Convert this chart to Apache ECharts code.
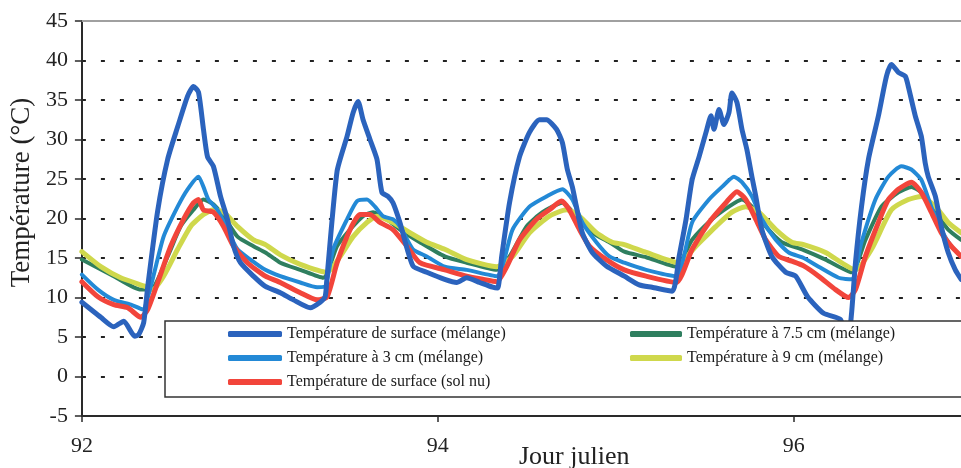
<!DOCTYPE html>
<html>
<head>
<meta charset="utf-8">
<script src="https://cdn.jsdelivr.net/npm/echarts@6/dist/echarts.min.js"></script>
<style>html,body{margin:0;padding:0;background:#fff}#c{width:961px;height:468px}</style>
</head>
<body>
<div id="c"></div>
<script>
const seriesNames = [
  'Température de surface (mélange)',
  'Température à 3 cm (mélange)',
  'Température de surface (sol nu)',
  'Température à 7.5 cm (mélange)',
  'Température à 9 cm (mélange)'
];
const xTicks = [92, 94, 96];
const yTicks = [-5, 0, 5, 10, 15, 20, 25, 30, 35, 40, 45];

const surfaceMelange = [[92.0,9.4],[92.106,7.5],[92.179,6.3],[92.235,7.0],[92.297,5.1],[92.319,5.3],[92.347,6.8],[92.370,11.4],[92.426,21.0],[92.482,27.5],[92.538,31.6],[92.594,35.5],[92.627,36.7],[92.655,36.0],[92.683,31.3],[92.706,27.8],[92.739,26.6],[92.779,22.8],[92.818,19.9],[92.852,16.5],[92.891,14.4],[92.964,12.7],[93.031,11.4],[93.115,10.6],[93.188,9.7],[93.283,8.7],[93.339,9.4],[93.367,10.1],[93.378,12.7],[93.434,26.0],[93.490,30.4],[93.524,33.4],[93.552,34.8],[93.580,32.5],[93.619,30.0],[93.658,27.5],[93.686,23.3],[93.720,22.8],[93.748,22.0],[93.787,19.5],[93.860,14.0],[93.938,13.2],[94.039,12.3],[94.106,11.9],[94.162,12.5],[94.235,11.9],[94.308,11.3],[94.336,11.2],[94.359,15.2],[94.403,22.0],[94.459,27.8],[94.515,30.9],[94.571,32.5],[94.611,32.5],[94.667,31.3],[94.700,29.6],[94.728,26.2],[94.756,24.0],[94.779,21.5],[94.812,18.2],[94.868,15.7],[94.947,14.0],[95.048,12.7],[95.132,11.6],[95.204,11.3],[95.317,10.8],[95.356,15.2],[95.395,19.9],[95.429,24.9],[95.468,27.8],[95.507,30.9],[95.535,33.0],[95.552,31.3],[95.580,33.8],[95.608,31.9],[95.636,33.4],[95.653,35.9],[95.681,34.7],[95.709,31.3],[95.737,28.7],[95.765,25.3],[95.787,22.8],[95.821,18.6],[95.877,15.2],[95.955,13.2],[96.011,12.7],[96.078,10.1],[96.168,8.0],[96.263,7.2],[96.303,4.0],[96.325,8.0],[96.347,14.4],[96.381,21.5],[96.420,27.5],[96.476,33.0],[96.521,38.0],[96.549,39.5],[96.588,38.5],[96.627,38.0],[96.644,36.7],[96.683,33.0],[96.717,30.4],[96.739,27.0],[96.756,25.3],[96.796,22.8],[96.829,19.0],[96.868,15.7],[96.908,13.5],[96.941,12.3]];

const temp3cm = [[92.0,12.9],[92.090,11.0],[92.179,9.7],[92.275,9.1],[92.342,8.5],[92.387,11.4],[92.459,17.7],[92.538,21.5],[92.594,23.7],[92.655,25.3],[92.683,24.0],[92.711,22.4],[92.762,21.1],[92.818,18.6],[92.874,16.1],[92.947,14.8],[93.031,13.5],[93.115,12.7],[93.227,11.9],[93.322,11.3],[93.367,11.4],[93.412,16.1],[93.490,19.9],[93.546,22.2],[93.602,22.4],[93.647,21.5],[93.692,20.3],[93.748,19.9],[93.787,19.0],[93.860,16.1],[93.938,15.2],[94.039,13.9],[94.162,13.5],[94.331,12.7],[94.420,18.6],[94.515,21.5],[94.611,22.8],[94.700,23.7],[94.756,22.4],[94.812,19.5],[94.891,17.0],[94.964,15.2],[95.048,14.4],[95.171,13.5],[95.339,12.7],[95.429,19.5],[95.524,22.4],[95.597,24.0],[95.664,25.3],[95.709,24.6],[95.765,22.8],[95.821,19.9],[95.899,17.3],[95.972,15.7],[96.056,15.0],[96.140,13.9],[96.252,12.5],[96.325,12.3],[96.381,17.0],[96.459,22.4],[96.532,25.3],[96.605,26.6],[96.661,26.2],[96.717,24.9],[96.773,21.5],[96.829,18.6],[96.885,16.5],[96.941,15.2]];

const surfaceSolNu = [[92.0,12.0],[92.090,10.1],[92.179,9.1],[92.258,8.7],[92.331,7.5],[92.370,8.5],[92.426,11.9],[92.499,16.5],[92.571,19.9],[92.627,22.0],[92.655,22.4],[92.683,21.1],[92.739,20.8],[92.796,19.0],[92.852,16.5],[92.930,14.4],[93.031,12.7],[93.115,11.9],[93.227,10.6],[93.322,9.7],[93.378,10.1],[93.434,14.4],[93.507,18.6],[93.563,20.5],[93.619,20.5],[93.675,19.5],[93.748,18.6],[93.826,16.5],[93.899,14.4],[94.039,13.5],[94.162,12.7],[94.252,12.3],[94.331,12.0],[94.387,13.9],[94.459,17.3],[94.555,19.9],[94.627,21.1],[94.695,22.2],[94.739,21.1],[94.796,18.6],[94.852,16.5],[94.947,14.8],[95.048,13.5],[95.171,12.7],[95.339,11.9],[95.429,16.1],[95.524,19.5],[95.619,22.0],[95.681,23.4],[95.731,22.4],[95.787,19.9],[95.843,17.3],[95.916,15.2],[95.989,14.6],[96.056,14.0],[96.140,12.7],[96.235,11.0],[96.308,10.0],[96.347,11.0],[96.403,15.2],[96.476,19.5],[96.532,22.4],[96.588,23.7],[96.661,24.6],[96.717,23.3],[96.773,20.8],[96.829,18.2],[96.885,16.5],[96.941,15.2]];

const temp75cm = [[92.0,14.8],[92.179,12.7],[92.331,11.0],[92.387,11.0],[92.482,15.2],[92.555,19.0],[92.627,21.1],[92.683,22.4],[92.739,21.8],[92.796,20.3],[92.874,17.7],[92.964,16.5],[93.031,15.7],[93.115,14.4],[93.227,13.5],[93.356,12.5],[93.434,16.5],[93.507,18.6],[93.580,20.3],[93.636,20.8],[93.714,19.9],[93.787,18.6],[93.899,17.0],[94.039,15.2],[94.162,14.4],[94.331,13.5],[94.403,15.2],[94.499,19.0],[94.588,20.8],[94.700,22.0],[94.779,20.3],[94.868,18.2],[94.964,17.0],[95.048,15.8],[95.171,15.1],[95.339,13.9],[95.429,17.3],[95.541,19.9],[95.636,21.5],[95.709,22.4],[95.765,21.5],[95.843,19.0],[95.933,17.0],[96.056,16.0],[96.179,14.8],[96.325,13.2],[96.403,17.3],[96.493,21.5],[96.588,23.3],[96.661,24.0],[96.717,23.3],[96.796,20.8],[96.868,18.6],[96.941,17.3]];

const temp9cm = [[92.0,15.8],[92.106,13.9],[92.218,12.5],[92.370,11.3],[92.398,11.0],[92.459,12.7],[92.538,16.1],[92.611,19.0],[92.683,20.5],[92.739,21.1],[92.796,20.8],[92.874,19.0],[92.964,17.3],[93.031,16.7],[93.115,15.4],[93.227,14.2],[93.378,13.2],[93.451,15.2],[93.524,17.7],[93.602,19.5],[93.658,20.3],[93.748,19.5],[93.843,18.2],[93.938,17.0],[94.039,16.1],[94.162,14.8],[94.331,13.9],[94.420,15.2],[94.515,18.2],[94.627,20.3],[94.723,21.1],[94.796,20.3],[94.891,18.2],[94.980,17.0],[95.048,16.7],[95.171,15.7],[95.356,14.4],[95.451,16.5],[95.563,19.0],[95.653,20.8],[95.731,21.5],[95.804,20.8],[95.899,18.6],[95.989,17.0],[96.056,16.7],[96.179,15.7],[96.347,13.5],[96.437,16.1],[96.549,21.1],[96.644,22.4],[96.717,22.8],[96.796,21.5],[96.868,19.5],[96.941,18.2]];

const colors = {
  surf: '#2b63bd',
  c3: '#2389d6',
  nu: '#f2453b',
  c75: '#2f7f5f',
  c9: '#cfd84c'
};
const serif = '"Liberation Serif", "DejaVu Serif", serif';

function line(name, data, color, width, z) {
  return {
    name, type: 'line', data, showSymbol: false, symbol: 'none', z,
    smooth: 0.2,
    lineStyle: { color, width, join: 'round', cap: 'round' },
    itemStyle: { color },
    emphasis: { disabled: true }
  };
}

const legendText = { fontFamily: serif, fontSize: 16, color: '#1a1a1a' };

const chart = echarts.init(document.getElementById('c'));
chart.setOption({
  animation: false,
  backgroundColor: '#fff',
  grid: { left: 80, right: 0, top: 21, bottom: 52 },
  title: {
    text: 'Jour julien', left: 514, top: 439,
    textStyle: { fontFamily: serif, fontSize: 26, fontWeight: 'normal', color: '#222' }
  },
  legend: [
    {
      data: seriesNames.slice(0, 3), orient: 'vertical', left: 223, top: 321, z: 100,
      itemWidth: 54, itemHeight: 6, itemGap: 8, icon: 'roundRect',
      textStyle: legendText
    },
    {
      data: seriesNames.slice(3), orient: 'vertical', left: 625, top: 321, z: 100,
      itemWidth: 52, itemHeight: 6, itemGap: 8, icon: 'roundRect',
      textStyle: legendText
    }
  ],
  graphic: [{
    type: 'rect', z: 50, silent: true,
    shape: { x: 165, y: 321, width: 810, height: 76 },
    style: { fill: '#fff', stroke: '#333', lineWidth: 1.5 }
  }],
  xAxis: [{
    type: 'value', min: 92, max: 96.94, interval: 2,
    axisLine: { show: true, onZero: false, lineStyle: { color: '#2a2a2a', width: 2 } },
    axisTick: { show: true, length: 6, customValues: xTicks, lineStyle: { color: '#2a2a2a', width: 1.5 } },
    axisLabel: { customValues: xTicks, margin: 19, fontFamily: serif, fontSize: 22, color: '#222' },
    splitLine: { show: false }
  }, {
    type: 'value', position: 'top', min: 92, max: 96.94,
    axisLine: { show: true, onZero: false, lineStyle: { color: '#a0a0a0', width: 2 } },
    axisTick: { show: false }, axisLabel: { show: false }, splitLine: { show: false }
  }],
  yAxis: {
    type: 'value', min: -5, max: 45, interval: 5,
    name: 'Température (°C)', nameLocation: 'middle', nameRotate: 90, nameGap: 44,
    nameTextStyle: { fontFamily: serif, fontSize: 27, color: '#222', padding: [0, 0, 0, 52] },
    axisLine: { show: true, onZero: false, lineStyle: { color: '#2a2a2a', width: 2 } },
    axisTick: { show: true, length: 7, lineStyle: { color: '#2a2a2a', width: 1.5 } },
    axisLabel: { customValues: yTicks, margin: 14, fontFamily: serif, fontSize: 22, color: '#222' },
    splitLine: {
      show: true, showMinLine: false, showMaxLine: false,
      lineStyle: { color: '#222', width: 2, type: [4, 15] }
    }
  },
  series: [
    line(seriesNames[3], temp75cm, colors.c75, 4, 2),
    line(seriesNames[4], temp9cm, colors.c9, 5, 3),
    line(seriesNames[1], temp3cm, colors.c3, 4, 4),
    line(seriesNames[2], surfaceSolNu, colors.nu, 5, 5),
    line(seriesNames[0], surfaceMelange, colors.surf, 5, 6)
  ]
});
</script>
</body>
</html>
